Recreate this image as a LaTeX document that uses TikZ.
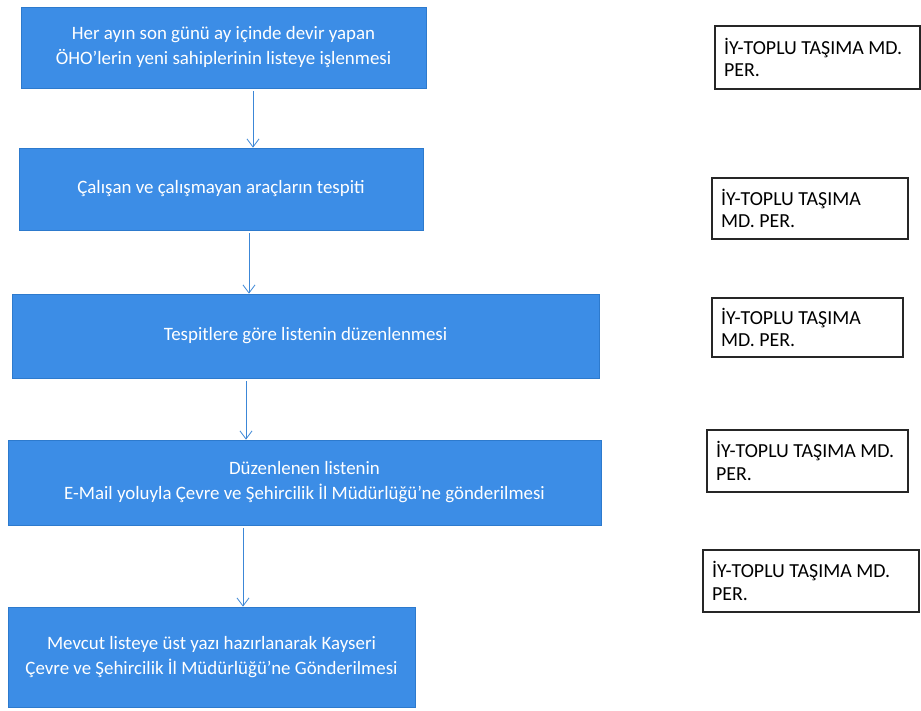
\documentclass[tikz,border=0pt]{standalone}
\usepackage{fontspec}
\setmainfont{Carlito}
\usetikzlibrary{arrows.meta}
\definecolor{boxblue}{RGB}{60,141,230}
\definecolor{boxedge}{RGB}{45,122,205}
\definecolor{arrowblue}{RGB}{60,135,215}
\begin{document}
\begin{tikzpicture}[x=1pt,y=-1pt,
  bluebox/.style={draw=boxedge, line width=0.8pt, fill=boxblue, text=white,
    align=center, font=\fontsize{18.9}{25}\selectfont, inner sep=0pt},
  rolebox/.style={draw=black!85, line width=1.3pt, fill=white, align=flush left,
    font=\fontsize{19.9}{22.5}\selectfont, inner sep=0pt},
  arr/.style={draw=arrowblue, line width=0.8pt, shorten <=3pt,
    -{Straight Barb[length=8pt,width=12pt]}}]
\useasboundingbox (0,0) rectangle (921,711);
\fill[white] (0,0) rectangle (921,711);

% process boxes
\node[bluebox, minimum width=405pt, minimum height=81pt] (b1) at (223.5,47.5)
  {Her ayın son günü ay içinde devir yapan\\ÖHO'lerin yeni sahiplerinin listeye işlenmesi};
\node[bluebox, minimum width=404pt, minimum height=82pt] (b2) at (221,189)
  {Çalışan ve çalışmayan araçların tespiti};
\node[bluebox, minimum width=587pt, minimum height=84pt] (b3) at (305.5,336)
  {Tespitlere göre listenin düzenlenmesi};
\node[bluebox, minimum width=593pt, minimum height=85pt] (b4) at (304.5,482.5)
  {Düzenlenen listenin\\E-Mail yoluyla Çevre ve Şehircilik İl Müdürlüğü'ne gönderilmesi};
\node[bluebox, minimum width=407pt, minimum height=100pt] (b5) at (211.5,657)
  {Mevcut listeye üst yazı hazırlanarak Kayseri\\Çevre ve Şehircilik İl Müdürlüğü'ne Gönderilmesi};

% responsible boxes
\node[rolebox, minimum width=205pt, minimum height=63pt, text width=187pt] (r1) at (817.5,57.5)
  {İY-TOPLU TAŞIMA MD.\\PER.};
\node[rolebox, minimum width=196pt, minimum height=61pt, text width=178pt] (r2) at (810,208.5)
  {İY-TOPLU TAŞIMA\\MD. PER.};
\node[rolebox, minimum width=191pt, minimum height=59pt, text width=173pt] (r3) at (807.5,327.5)
  {İY-TOPLU TAŞIMA\\MD. PER.};
\node[rolebox, minimum width=201pt, minimum height=62pt, text width=183pt] (r4) at (807.5,461)
  {İY-TOPLU TAŞIMA MD.\\PER.};
\node[rolebox, minimum width=216pt, minimum height=62pt, text width=198pt] (r5) at (811,581)
  {İY-TOPLU TAŞIMA MD.\\PER.};

% arrows
\coordinate (x1) at (253,0);
\coordinate (x2) at (249,0);
\coordinate (x3) at (246,0);
\coordinate (x4) at (243,0);
\draw[arr] (b1.south -| x1) -- (b2.north -| x1);
\draw[arr] (b2.south -| x2) -- (b3.north -| x2);
\draw[arr] (b3.south -| x3) -- (b4.north -| x3);
\draw[arr] (b4.south -| x4) -- (b5.north -| x4);
\end{tikzpicture}
\end{document}
